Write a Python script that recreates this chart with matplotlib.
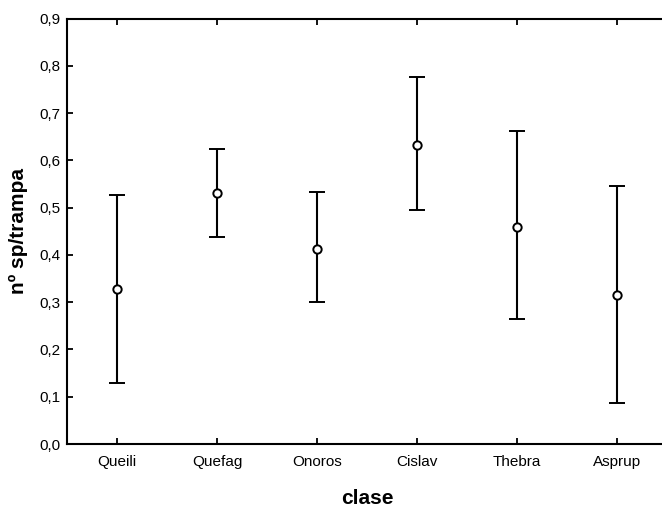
import numpy as np
import matplotlib.pyplot as plt

plt.rcParams['font.family'] = ['Liberation Sans', 'DejaVu Sans']

clases = ['Queili', 'Quefag', 'Onoros', 'Cislav', 'Thebra', 'Asprup']
media = [0.328, 0.531, 0.412, 0.632, 0.458, 0.315]
sup = [0.527, 0.624, 0.532, 0.777, 0.661, 0.545]
inf = [0.128, 0.437, 0.301, 0.495, 0.264, 0.087]

x = np.arange(len(clases))
err = [np.array(media) - np.array(inf), np.array(sup) - np.array(media)]

fig = plt.figure(figsize=(6.62, 5.08), dpi=100)
ax = fig.add_axes([67/662, 64/508, 600/662, 425.5/508])

ax.errorbar(x, media, yerr=err, fmt='o', color='black', ecolor='black',
            elinewidth=1.5, capsize=6, capthick=1.5,
            markersize=6, markerfacecolor='white', markeredgecolor='black',
            markeredgewidth=1.4)

ax.set_xlim(-0.5, 5.5)
ax.set_ylim(0, 0.9)
ax.set_xticks(x)
ax.set_xticklabels(clases)
yt = np.arange(0, 0.91, 0.1)
ax.set_yticks(yt)
ax.set_yticklabels([('%.1f' % v).replace('.', ',') for v in yt])

for s in ax.spines.values():
    s.set_linewidth(1.5)

# los ticks de la derecha casi no se ven en el original (quedan fuera de la imagen)
ax.tick_params(axis='both', direction='in', length=4, width=1.3, labelsize=11,
               top=True, right=False)
ax.tick_params(axis='y', pad=5)
ax.tick_params(axis='x', pad=8)

ax.set_xlabel('clase', fontsize=15, fontweight='bold', labelpad=14)
ax.set_ylabel('nº sp/trampa', fontsize=15, fontweight='bold', labelpad=8)

fig.savefig('out.png', dpi=100)
